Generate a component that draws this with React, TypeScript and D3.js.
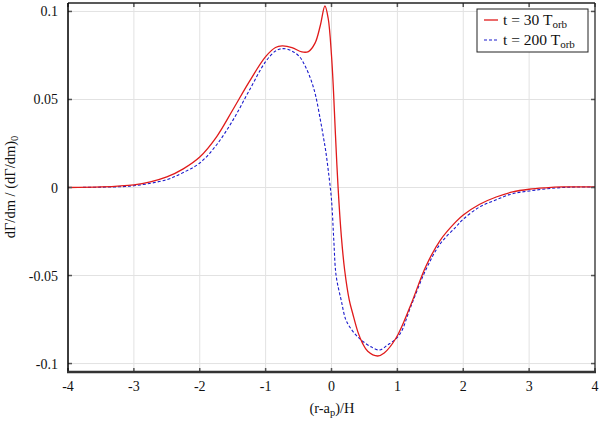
import React from "react";
import * as d3 from "d3";

const xTicks = [-4, -3, -2, -1, 0, 1, 2, 3, 4];
const yTicks = [-0.1, -0.05, 0, 0.05, 0.1];
const yTickLabels = ["-0.1", "-0.05", "0", "0.05", "0.1"];

const redX = [-4, -3.5, -3, -2.75, -2.5, -2.25, -2, -1.75, -1.5, -1.25, -1, -0.85, -0.75, -0.6, -0.45, -0.35, -0.25, -0.17, -0.1, -0.05, 0, 0.03, 0.06, 0.1, 0.15, 0.2, 0.27, 0.32, 0.4, 0.47, 0.55, 0.7, 0.8, 0.98, 1.2, 1.43, 1.65, 1.89, 2, 2.25, 2.5, 2.75, 3, 3.25, 3.5, 3.75, 4];
const redY = [0, 0.0003, 0.0015, 0.0032, 0.006, 0.0106, 0.0173, 0.0285, 0.044, 0.06, 0.0743, 0.0795, 0.0804, 0.0795, 0.077, 0.0772, 0.082, 0.092, 0.1031, 0.096, 0.075, 0.055, 0.03, 0.0, -0.028, -0.047, -0.064, -0.0713, -0.082, -0.0884, -0.093, -0.0957, -0.094, -0.0855, -0.067, -0.045, -0.03, -0.0194, -0.0156, -0.0095, -0.0054, -0.0025, -0.001, -0.0002, 0.0003, 0.0004, 0.0003];

const blueX = [-4, -3.5, -3, -2.5, -2.25, -2, -1.75, -1.5, -1.25, -1, -0.85, -0.74, -0.6, -0.485, -0.4, -0.31, -0.24, -0.167, -0.12, -0.09, -0.05, 0, 0.035, 0.07, 0.147, 0.22, 0.33, 0.45, 0.6, 0.727, 0.85, 1.03, 1.2, 1.43, 1.65, 1.89, 2, 2.25, 2.5, 2.75, 3, 3.25, 3.5, 3.75, 4];
const blueY = [0, 0.0002, 0.001, 0.0045, 0.0085, 0.0139, 0.024, 0.038, 0.055, 0.0715, 0.0775, 0.0789, 0.0775, 0.0743, 0.069, 0.061, 0.052, 0.038, 0.028, 0.0213, 0.01, -0.007, -0.03, -0.05, -0.064, -0.0753, -0.082, -0.0866, -0.0905, -0.0923, -0.0895, -0.0838, -0.068, -0.0469, -0.032, -0.0223, -0.018, -0.011, -0.007, -0.0035, -0.002, -0.0008, 0, 0.0003, 0.0003];

const W = 600;
const H = 422;
const L = 68, R = 595, T = 3, B = 372;

export default function App() {
  const x = d3.scaleLinear().domain([-4, 4]).range([L, R]);
  const y = d3.scaleLinear().domain([-0.1048, 0.1048]).range([B, T]);
  const line = d3
    .line<[number, number]>()
    .x((d) => x(d[0]))
    .y((d) => y(d[1]))
    .curve(d3.curveCatmullRom.alpha(0.5));
  const redPts = redX.map((v, i) => [v, redY[i]] as [number, number]);
  const bluePts = blueX.map((v, i) => [v, blueY[i]] as [number, number]);
  const ts: React.CSSProperties = { fontFamily: "'Liberation Serif', 'DejaVu Serif', serif" };
  return (
    <svg width={W} height={H} style={{ position: "absolute", left: 0, top: 0 }}>
      <rect x={0} y={0} width={W} height={H} fill="#fff" />
      {xTicks.map((t) => (
        <line key={"gx" + t} x1={x(t)} x2={x(t)} y1={T} y2={B} stroke="#e2e2e2" strokeWidth={1} />
      ))}
      {yTicks.map((t) => (
        <line key={"gy" + t} x1={L} x2={R} y1={y(t)} y2={y(t)} stroke="#e2e2e2" strokeWidth={1} />
      ))}
      <path d={line(bluePts) || ""} fill="none" stroke="#1a1acc" strokeWidth={1.1} strokeDasharray="3,2" />
      <path d={line(redPts) || ""} fill="none" stroke="#e01a1a" strokeWidth={1.3} />
      {xTicks.map((t) => (
        <g key={"tx" + t}>
          <line x1={x(t)} x2={x(t)} y1={B} y2={B - 4} stroke="#555" strokeWidth={1.5} />
          <line x1={x(t)} x2={x(t)} y1={T} y2={T + 4} stroke="#555" strokeWidth={1.5} />
          <text x={x(t)} y={391} fontSize={14} textAnchor="middle" fill="#111" style={ts}>
            {t}
          </text>
        </g>
      ))}
      {yTicks.map((t, i) => (
        <g key={"ty" + t}>
          <line x1={L} x2={L + 4} y1={y(t)} y2={y(t)} stroke="#555" strokeWidth={1.5} />
          <line x1={R} x2={R - 4} y1={y(t)} y2={y(t)} stroke="#555" strokeWidth={1.5} />
          <text x={58} y={y(t) + 5} fontSize={14} textAnchor="end" fill="#111" style={ts}>
            {yTickLabels[i]}
          </text>
        </g>
      ))}
      <line x1={L} x2={R} y1={T} y2={T} stroke="#222" strokeWidth={1.5} />
      <line x1={R} x2={R} y1={T} y2={B} stroke="#222" strokeWidth={1.2} />
      <line x1={L} x2={L} y1={T} y2={B} stroke="#000" strokeWidth={1.5} />
      <line x1={L - 1} x2={R + 1} y1={B} y2={B} stroke="#333" strokeWidth={2.5} />
      <text x={332} y={413} fontSize={14.5} textAnchor="middle" fill="#111" style={ts}>
        (r-a<tspan fontSize={10.5} dy={3}>p</tspan>
        <tspan dy={-3}>)/H</tspan>
      </text>
      <text transform={`translate(15,${187}) rotate(-90)`} fontSize={14.5} textAnchor="middle" fill="#111" style={ts}>
        dΓ/dm / (dΓ/dm)<tspan fontSize={10.5} dy={3}>0</tspan>
      </text>
      <rect x={477} y={9} width={111} height={43} fill="#fff" stroke="#222" strokeWidth={1} />
      <line x1={484} x2={498} y1={20} y2={20} stroke="#e01a1a" strokeWidth={1.3} />
      <line x1={484} x2={498} y1={40} y2={40} stroke="#1a1acc" strokeWidth={1.1} strokeDasharray="3,2" />
      <text x={503} y={25} fontSize={15.5} fill="#111" style={ts}>
        t = 30 T<tspan fontSize={11} dy={3}>orb</tspan>
      </text>
      <text x={503} y={45} fontSize={15.5} fill="#111" style={ts}>
        t = 200 T<tspan fontSize={11} dy={3}>orb</tspan>
      </text>
    </svg>
  );
}
